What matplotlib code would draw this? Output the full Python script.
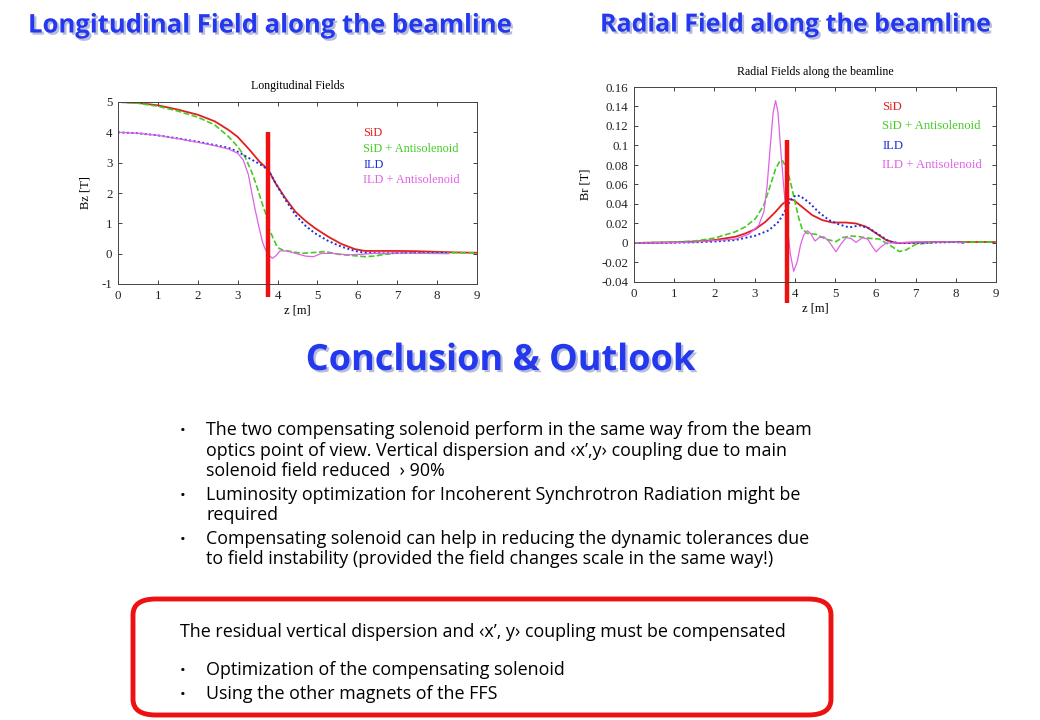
import matplotlib
matplotlib.use("Agg")
import matplotlib.pyplot as plt
import matplotlib.patheffects as pe
from matplotlib.patches import FancyBboxPatch

plt.rcParams["axes.unicode_minus"] = False

# ---- data ----
series_names = ["SiD", "SiD + Antisolenoid", "ILD", "ILD + Antisolenoid"]
series_colors = ["#e02020", "#44cc22", "#2030d8", "#e060e8"]
series_styles = ["-", (0, (3.5, 1.5)), (0, (1, 1.3)), "-"]
series_widths = [1.3, 1.2, 1.4, 0.9]

# longitudinal field Bz [T]
sid_bz_z = [0, 0.5, 1, 1.5, 2, 2.43, 2.77, 3.0, 3.3, 3.55, 3.77, 3.95, 4.2, 4.45, 4.7,
            4.94, 5.27, 5.6, 5.94, 6.19, 6.7, 7, 7.5, 8, 8.5, 9]
sid_bz = [5, 4.97, 4.89, 4.75, 4.58, 4.36, 4.08, 3.85, 3.42, 3.03, 2.76, 2.32, 1.82, 1.38,
          1.08, 0.84, 0.56, 0.32, 0.15, 0.09, 0.09, 0.09, 0.08, 0.06, 0.04, 0.03]

sida_bz_z = [0, 0.5, 1, 1.5, 2, 2.43, 2.77, 3.0, 3.18, 3.35, 3.47, 3.6, 3.7, 3.78, 3.89,
             4.0, 4.13, 4.35, 4.6, 4.94, 5.19, 5.52, 5.94, 6.19, 6.44, 6.69, 7, 8, 9]
sida_bz = [5, 4.96, 4.86, 4.7, 4.5, 4.24, 3.86, 3.53, 3.2, 2.7, 2.26, 1.71, 1.33, 0.84, 0.51,
           0.2, 0.12, 0.07, 0.01, 0.04, 0.07, -0.02, -0.07, -0.1, -0.08, -0.02, 0.02, 0.03, 0.03]

ild_bz_z = [0, 0.5, 1, 1.5, 2, 2.43, 2.77, 3.0, 3.27, 3.52, 3.77, 3.95, 4.2, 4.45, 4.7,
            4.94, 5.27, 5.6, 5.94, 6.19, 6.7, 7, 8, 8.3]
ild_bz = [4, 3.97, 3.9, 3.8, 3.69, 3.58, 3.49, 3.36, 3.16, 2.98, 2.76, 2.32, 1.77, 1.27,
          0.92, 0.67, 0.42, 0.23, 0.09, 0.03, 0.01, 0.02, 0.02, 0.02]

ilda_bz_z = [0, 0.5, 1, 1.5, 2, 2.43, 2.77, 3.0, 3.14, 3.27, 3.35, 3.43, 3.53, 3.62, 3.68,
             3.77, 3.87, 3.96, 4.06, 4.23, 4.45, 4.7, 4.9, 5.1, 5.36, 5.78, 6.11, 6.44,
             7, 8.3]
ilda_bz = [4, 3.97, 3.9, 3.79, 3.67, 3.56, 3.45, 3.31, 3.09, 2.6, 2.04, 1.5, 0.9, 0.4, 0.18,
           -0.04, -0.15, -0.07, 0.09, 0.09, 0.01, -0.08, -0.1, 0.01, 0.01, -0.04, -0.02,
           0.01, 0.02, 0.0]

# radial field Br [T]
sid_br_z = [0, 1, 1.5, 2, 2.52, 2.77, 3.02, 3.27, 3.52, 3.68, 3.85, 3.97, 4.18, 4.43, 4.68,
            4.93, 5.27, 5.52, 5.77, 6.02, 6.27, 6.52, 7, 7.5, 8, 8.5, 9]
sid_br = [0, 0.0007, 0.0015, 0.003, 0.0064, 0.0098, 0.0143, 0.0218, 0.032, 0.0395, 0.045,
          0.044, 0.037, 0.0286, 0.0235, 0.021, 0.021, 0.020, 0.0167, 0.0099, 0.003, 0.0,
          0.0005, 0.001, 0.001, 0.001, 0.001]

sida_br_z = [0, 1, 1.5, 2, 2.52, 2.77, 3.02, 3.23, 3.39, 3.52, 3.64, 3.7, 3.81, 3.91, 4.02,
             4.1, 4.18, 4.31, 4.52, 4.77, 5.02, 5.18, 5.39, 5.6, 5.85, 6.1, 6.35, 6.6,
             6.77, 7, 7.5, 8, 9]
sida_br = [0, 0.001, 0.002, 0.005, 0.0115, 0.0167, 0.025, 0.039, 0.059, 0.076, 0.085, 0.084,
           0.075, 0.059, 0.039, 0.025, 0.0143, 0.0099, 0.009, 0.004, 0.0014, 0.0055, 0.0072,
           0.0065, 0.0048, 0.004, -0.002, -0.0088, -0.007, -0.0014, 0.0008, 0.001, 0.001]

ild_br_z = [0, 1, 1.5, 2, 2.52, 3.02, 3.35, 3.6, 3.77, 3.89, 4.02, 4.14, 4.35, 4.6, 4.85,
            5.1, 5.35, 5.6, 5.85, 6.1, 6.35, 6.6, 7, 8, 8.2]
ild_br = [0, 0.0003, 0.0007, 0.0015, 0.003, 0.0075, 0.013, 0.022, 0.034, 0.044, 0.049,
          0.048, 0.0416, 0.0313, 0.0235, 0.019, 0.016, 0.018, 0.015, 0.0082, 0.0014, 0.0,
          0.0, 0.001, 0.0]

ilda_br_z = [0, 1, 1.5, 2, 2.52, 2.85, 3.1, 3.23, 3.31, 3.39, 3.46, 3.52, 3.58, 3.64, 3.72,
             3.81, 3.89, 3.97, 4.06, 4.14, 4.22, 4.31, 4.39, 4.5, 4.6, 4.72, 4.85, 5.02,
             5.14, 5.27, 5.39, 5.52, 5.68, 5.81, 5.93, 6.02, 6.14, 6.27, 6.43, 7, 8, 8.2]
ilda_br = [0, 0.0005, 0.001, 0.0025, 0.004, 0.009, 0.018, 0.032, 0.059, 0.1, 0.134, 0.146,
           0.134, 0.1, 0.059, 0.018, -0.012, -0.029, -0.019, -0.002, 0.0082, 0.0126, 0.0099,
           0.002, 0.0055, 0.0065, 0.0014, -0.009, -0.0014, 0.0055, 0.0048, 0.0007, 0.0055,
           0.004, -0.004, -0.009, -0.004, 0.0, 0.0, 0.001, 0.001, 0.0]

# red markers (magnet position): z, top, bottom
bz_marker = (3.75, 4.0, -1.43)
br_marker = (3.80, 0.106, -0.062)

bullets = [
    ["The two compensating solenoid perform in the same way from the beam",
     "optics point of view. Vertical dispersion and \u2039x\u2019,y\u203a coupling due to main",
     "solenoid field reduced  \u203a 90%"],
    ["Luminosity optimization for Incoherent Synchrotron Radiation might be",
     "required"],
    ["Compensating solenoid can help in reducing the dynamic tolerances due",
     "to field instability (provided the field changes scale in the same way!)"],
]
box_head = "The residual vertical dispersion and \u2039x\u2019, y\u203a coupling must be compensated"
box_bullets = ["Optimization of the compensating solenoid", "Using the other magnets of the FFS"]

W, H = 1040, 720
fig = plt.figure(figsize=(W / 100, H / 100), dpi=100)
fig.patch.set_facecolor("white")

serif = "Liberation Serif"
body = "Open Sans"
head_color = "#2438ee"
shadow = [pe.withSimplePatchShadow(offset=(1.6, -1.6), shadow_rgbFace="#9aa0cc", alpha=0.7)]


def px_axes(x0, y0, x1, y1):
    return fig.add_axes([x0 / W, 1 - y1 / H, (x1 - x0) / W, (y1 - y0) / H])


def style_axes(ax, title, ylabel):
    ax.set_xlim(0, 9)
    ax.set_xticks(range(10))
    ax.tick_params(direction="in", top=True, right=True, length=3, width=0.6,
                   labelsize=9.3, pad=4, colors="#222222")
    for lab in ax.get_xticklabels() + ax.get_yticklabels():
        lab.set_family(serif)
    for s in ax.spines.values():
        s.set_linewidth(0.7)
        s.set_color("#444444")
    ax.set_title(title, fontsize=8.6, family=serif, pad=9)
    ax.set_xlabel("z [m]", fontsize=9, family=serif, labelpad=2)
    ax.set_ylabel(ylabel, fontsize=9, family=serif, labelpad=7)


def draw_series(ax, data):
    for (z, b), c, ls, lw in zip(data, series_colors, series_styles, series_widths):
        ax.plot(z, b, color=c, ls=ls, lw=lw, solid_joinstyle="round")


def text_line(x, y, s, bullet=False):
    # y is the visual middle of the line in pixels from the top
    base = 1 - (y + 5) / H
    if bullet:
        fig.text(180 / W, base, "\u2022", fontsize=11, family=body, va="baseline")
    fig.text(x / W, base, s, fontsize=12.9, family=body, va="baseline")


# left plot: longitudinal
ax1 = px_axes(118, 102, 477, 284)
draw_series(ax1, [(sid_bz_z, sid_bz), (sida_bz_z, sida_bz), (ild_bz_z, ild_bz),
                  (ilda_bz_z, ilda_bz)])
ax1.set_ylim(-1, 5)
ax1.set_yticks(range(-1, 6))
style_axes(ax1, "Longitudinal Fields", "Bz [T]")
ax1.plot([bz_marker[0]] * 2, bz_marker[1:], color="#ee1111", lw=3.2, clip_on=False,
         solid_capstyle="butt")
for i, (name, c) in enumerate(zip(series_names, series_colors)):
    ax1.text(0.683, 0.83 - i * 0.087, name, transform=ax1.transAxes, color=c,
             fontsize=8.8, family=serif, va="center")

# right plot: radial
ax2 = px_axes(634, 87, 996, 282)
draw_series(ax2, [(sid_br_z, sid_br), (sida_br_z, sida_br), (ild_br_z, ild_br),
                  (ilda_br_z, ilda_br)])
ax2.set_ylim(-0.04, 0.16)
ax2.set_yticks([-0.04, -0.02, 0, 0.02, 0.04, 0.06, 0.08, 0.1, 0.12, 0.14, 0.16])
ax2.set_yticklabels(["-0.04", "-0.02", "0", "0.02", "0.04", "0.06", "0.08", "0.1",
                     "0.12", "0.14", "0.16"])
style_axes(ax2, "Radial Fields along the beamline", "Br [T]")
ax2.plot([br_marker[0]] * 2, br_marker[1:], color="#ee1111", lw=3.2, clip_on=False,
         solid_capstyle="butt")
for i, (name, c) in enumerate(zip(series_names, series_colors)):
    ax2.text(0.686, 0.898 - i * 0.1, name, transform=ax2.transAxes, color=c,
             fontsize=9.2, family=serif, va="center")

# slide headings
fig.text(28 / W, 1 - 25 / H, "Longitudinal Field along the beamline", color=head_color,
         fontsize=18.5, weight="bold", family=body, va="center", path_effects=shadow)
fig.text(600 / W, 1 - 25 / H, "Radial Field along the beamline", color=head_color,
         fontsize=18, weight="bold", family=body, va="center", path_effects=shadow)
fig.text(501 / W, 1 - 361 / H, "Conclusion & Outlook", color=head_color,
         fontsize=26, weight="bold", family=body, va="center", ha="center", path_effects=shadow)

# bullet text
y = 430
for lines in bullets:
    for j, ln in enumerate(lines):
        text_line(206, y, ln, bullet=(j == 0))
        y += 20.5
    y += 3

# red rounded box
box = FancyBboxPatch((133 / W, 1 - 715 / H), 698 / W, 116 / H,
                     boxstyle="round,pad=0,rounding_size=0.022", transform=fig.transFigure,
                     facecolor="none", edgecolor="#ee1111", lw=3.5)
fig.patches.append(box)
text_line(180, 632, box_head)
for i, ln in enumerate(box_bullets):
    text_line(206, 670 + i * 24, ln, bullet=True)

fig.savefig("out.png", dpi=100, facecolor="white")
